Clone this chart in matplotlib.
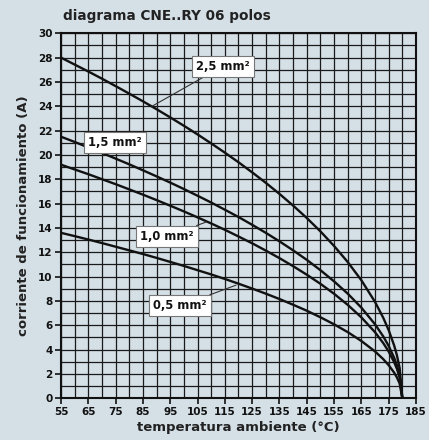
import matplotlib
matplotlib.use("Agg")
import matplotlib.pyplot as plt

# temperatures (°C) at which the curves were read
temps = [55, 60, 65, 70, 75, 80, 85, 90, 95, 100, 105, 110, 115, 120, 125,
         130, 135, 140, 145, 150, 155, 160, 165, 170, 173, 175, 177, 178, 179, 180]

# current (A) per cable section
i_25 = [28.00, 27.43, 26.86, 26.27, 25.66, 25.04, 24.41, 23.76, 23.09, 22.40, 21.69, 20.95,
        20.19, 19.40, 18.57, 17.71, 16.80, 15.84, 14.82, 13.72, 12.52, 11.20, 9.70, 7.92,
        6.62, 5.60, 4.34, 3.54, 2.50, 0.0]
i_15 = [21.50, 21.07, 20.62, 20.17, 19.70, 19.23, 18.74, 18.24, 17.73, 17.20, 16.65, 16.09,
        15.50, 14.90, 14.26, 13.60, 12.90, 12.16, 11.38, 10.53, 9.61, 8.60, 7.45, 6.08,
        5.09, 4.30, 3.33, 2.72, 1.92, 0.0]
i_10 = [19.20, 18.81, 18.42, 18.01, 17.60, 17.17, 16.74, 16.29, 15.83, 15.36, 14.87, 14.37,
        13.85, 13.30, 12.74, 12.14, 11.52, 10.86, 10.16, 9.41, 8.59, 7.68, 6.65, 5.43,
        4.54, 3.84, 2.97, 2.43, 1.72, 0.0]
i_05 = [13.60, 13.33, 13.05, 12.76, 12.46, 12.16, 11.86, 11.54, 11.21, 10.88, 10.53, 10.18,
        9.81, 9.42, 9.02, 8.60, 8.16, 7.69, 7.20, 6.66, 6.08, 5.44, 4.71, 3.85,
        3.22, 2.72, 2.11, 1.72, 1.22, 0.0]

labels = ["2,5 mm²", "1,5 mm²", "1,0 mm²", "0,5 mm²"]
# where each label's leader touches its curve, and where the box sits
label_xy = [(88.3, 24.0), (63.0, 20.9), (108.3, 14.5), (119.1, 9.3)]
label_box = [(114.3, 27.3), (74.8, 21.0), (93.8, 13.3), (98.6, 7.6)]

x_ticks = list(range(55, 186, 10))
y_ticks = list(range(0, 31, 2))

bg = "#d4dfe6"

fig = plt.figure(figsize=(4.29, 4.40), dpi=100, facecolor=bg)
ax = fig.add_axes([61 / 429, 1 - 398.3 / 440, 355 / 429, 365 / 440])
ax.set_facecolor(bg)

ax.set_xlim(55, 185)
ax.set_ylim(0, 30)
ax.set_xticks(x_ticks)
ax.set_xticks(range(55, 186, 5), minor=True)
ax.set_yticks(y_ticks)
ax.set_yticks(range(0, 31, 1), minor=True)
ax.grid(which="both", color="#1a1a1a", linewidth=0.9)
ax.set_axisbelow(True)
ax.tick_params(which="major", direction="out", length=4, width=1.2,
               labelsize=7.5, pad=2, colors="#111")
ax.tick_params(which="minor", length=0)
for lab in ax.get_xticklabels() + ax.get_yticklabels():
    lab.set_fontweight("bold")
for s in ax.spines.values():
    s.set_linewidth(1.5)
    s.set_color("#111")

for series in [i_25, i_15, i_10, i_05]:
    ax.plot(temps, series, color="#111", linewidth=1.7, solid_capstyle="round")

for text, xy, box in zip(labels, label_xy, label_box):
    ax.annotate(text, xy=xy, xytext=box, ha="center", va="center",
                fontsize=8.3, fontweight="bold", color="#111",
                bbox=dict(boxstyle="square,pad=0.35", fc="white", ec="#777", lw=0.8),
                arrowprops=dict(arrowstyle="-", color="#333", lw=0.8,
                                shrinkA=0, shrinkB=0))

ax.set_xlabel("temperatura ambiente (°C)", fontsize=9.5, fontweight="bold",
              color="#222", labelpad=3)
ax.set_ylabel("corriente de funcionamiento (A)", fontsize=9.5, fontweight="bold",
              color="#222", labelpad=6)
fig.text(63 / 429, 1 - 16 / 440, "diagrama CNE..RY 06 polos", fontsize=9.8,
         fontweight="bold", color="#222", ha="left", va="center")

fig.savefig("out.png", dpi=100, facecolor=bg)
